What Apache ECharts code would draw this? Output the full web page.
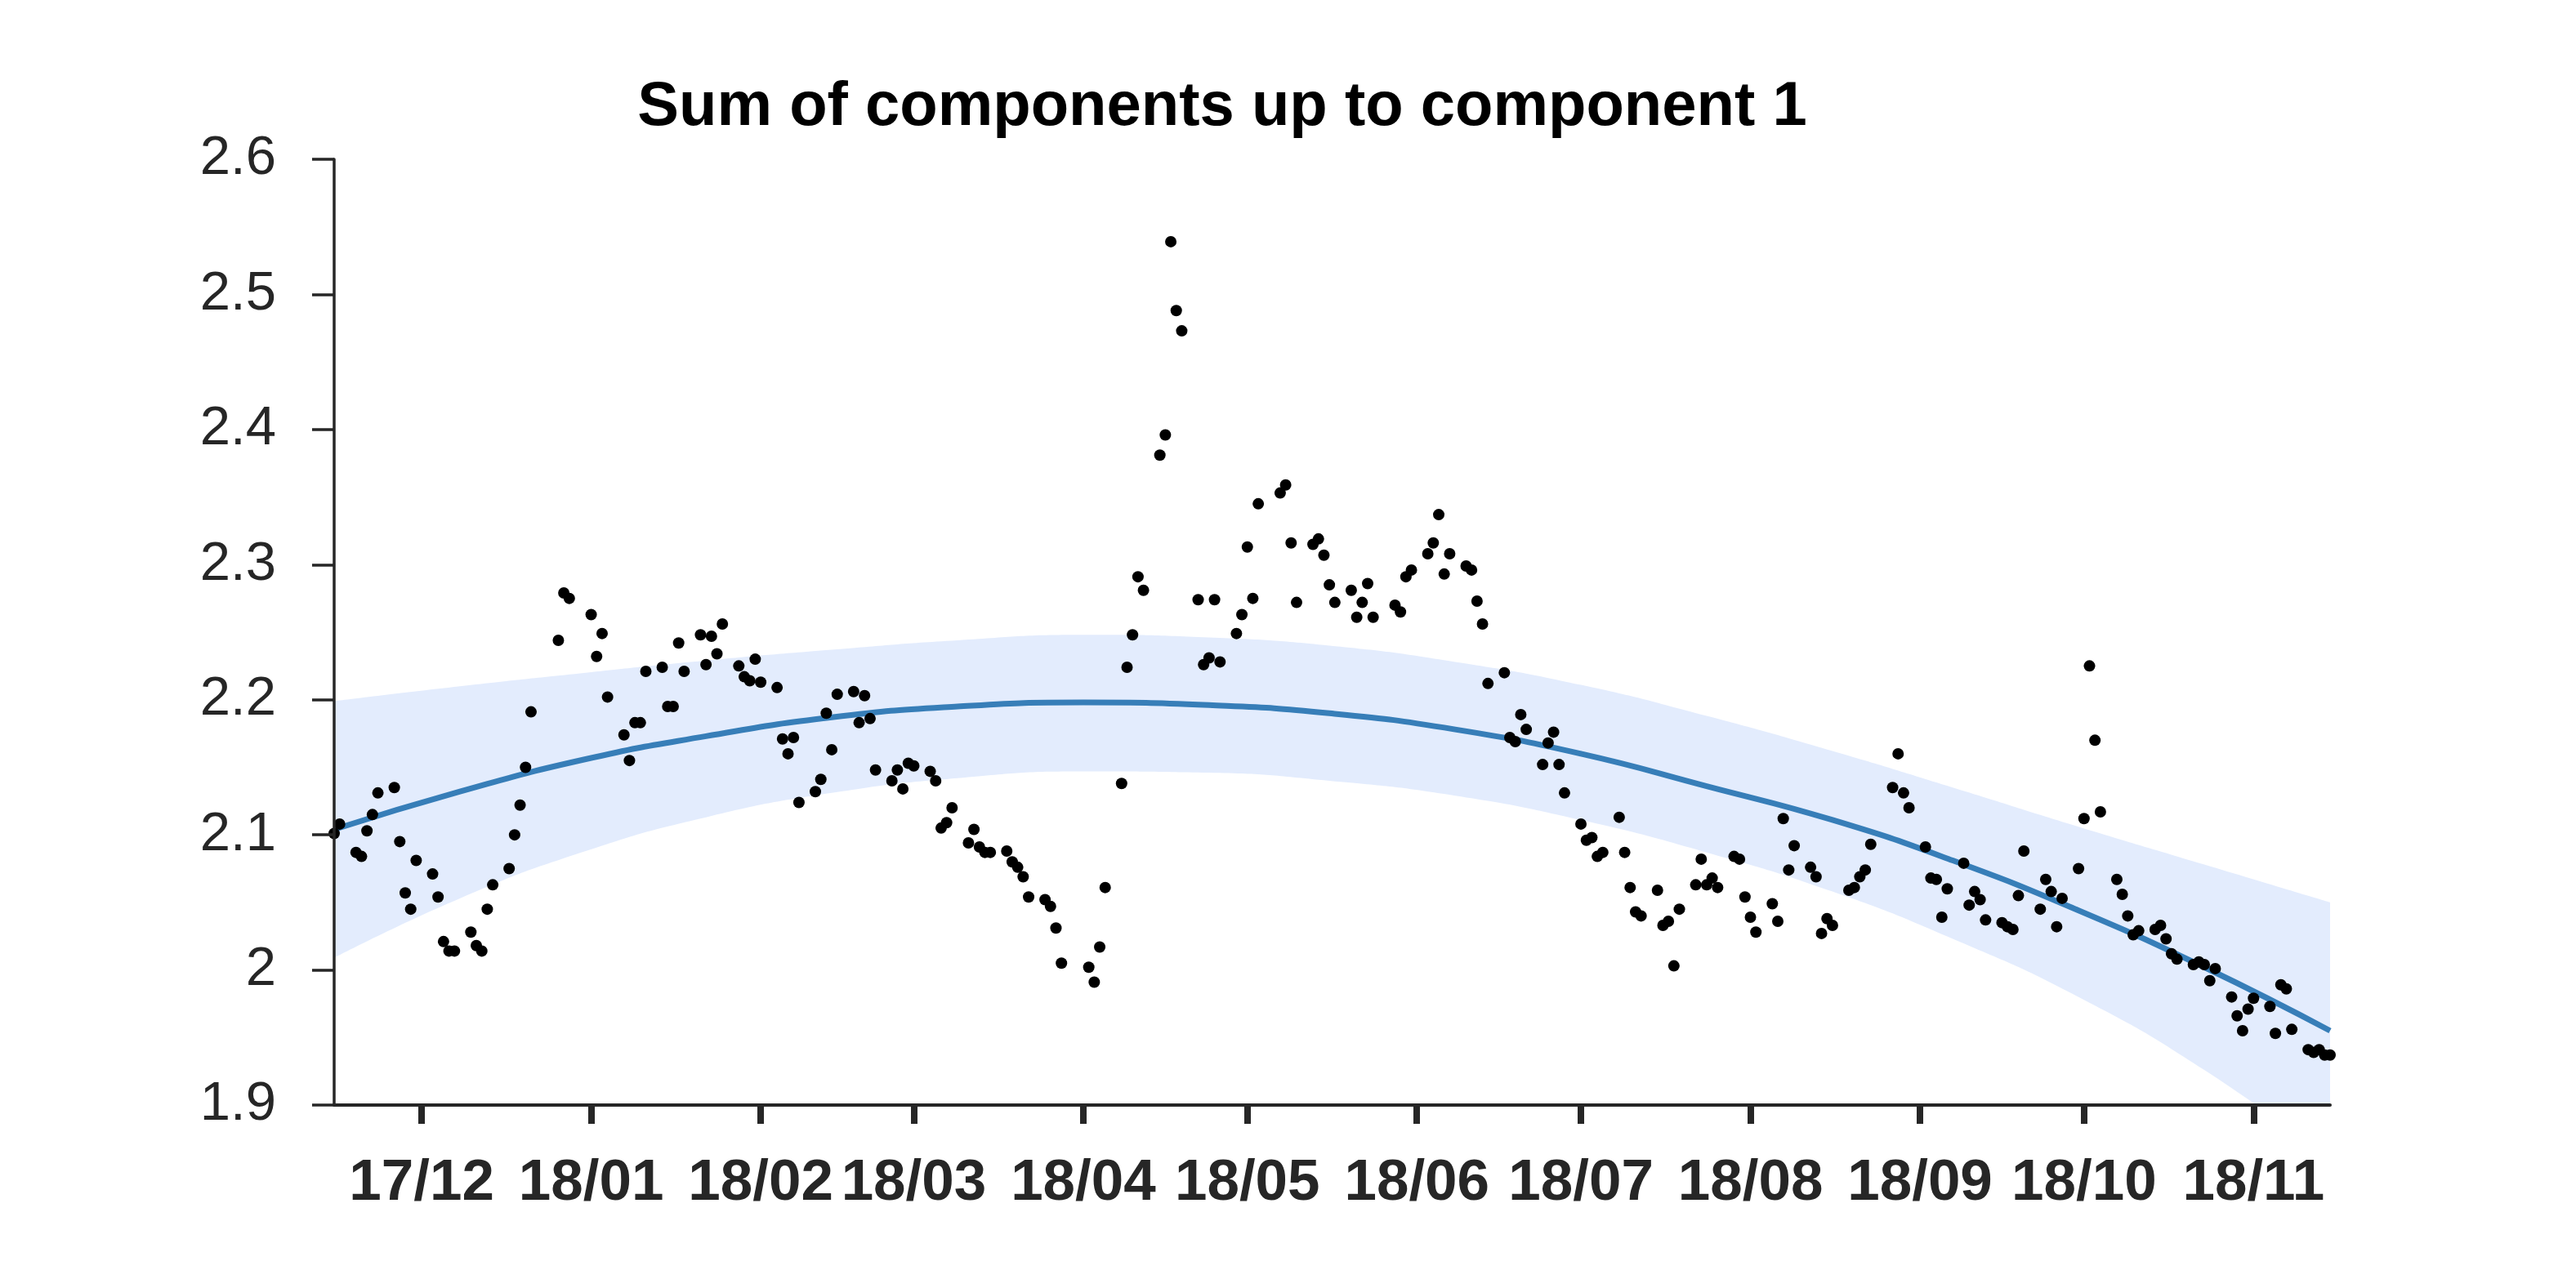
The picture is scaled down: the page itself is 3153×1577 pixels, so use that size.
<!DOCTYPE html>
<html>
<head>
<meta charset="utf-8">
<script src="https://cdn.jsdelivr.net/npm/echarts@6/dist/echarts.min.js"></script>
<style>
html,body{margin:0;padding:0;background:#ffffff;}
#chart{width:3153px;height:1577px;}
</style>
</head>
<body>
<div id="chart"></div>
<script>
// ---------------- data ----------------
const titleText = 'Sum of components up to component 1';
const baseDate = '2017-12-01';   // day 0 of the x scale

// x-axis extent (days from 2017-12-01)
const xStartDay = -16;
const xEndDay = 349;

// observed points: day offset from 2017-12-01 and value
const obsDays = [
  -16,-15,-12,-11,-10,-9,-8,-5,-4,-3,-2,-1,2,3,4,5,6,9,10,11,12,13,16,17,18,19,20,
  25,26,27,31,32,33,34,37,38,39,40,41,44,45,46,47,48,51,52,53,54,55,58,59,60,61,62,
  65,66,67,68,69,72,73,74,75,76,79,80,81,82,83,86,87,88,89,90,93,94,95,96,97,
  100,101,102,103,104,107,108,109,110,111,114,115,116,117,122,123,124,125,128,129,130,131,132,
  135,136,137,138,139,142,143,144,145,146,149,150,151,152,153,157,158,159,160,163,164,165,166,
  167,170,171,172,173,174,178,179,180,181,184,185,186,187,188,191,192,193,194,195,
  198,199,200,201,202,205,206,207,208,209,212,213,214,215,216,219,220,221,222,223,
  226,227,228,229,230,233,234,235,236,237,240,241,242,243,244,247,248,249,250,251,
  254,255,256,257,258,261,262,263,264,265,269,270,271,272,275,276,277,278,279,
  282,283,284,285,286,289,290,291,292,293,296,297,298,299,300,303,304,305,306,307,
  310,311,312,313,314,317,318,319,320,321,324,325,326,327,328,331,332,333,334,335,
  338,339,340,341,342,345,346,347,348,349
];
const obsValues = [
  2.101,2.108,2.087,2.084,2.103,2.115,2.131,2.135,2.095,2.057,2.045,2.081,2.071,2.054,2.021,2.014,2.014,2.028,2.018,2.014,2.045,2.063,2.075,2.100,2.122,2.150,2.191,
  2.244,2.279,2.275,2.263,2.232,2.249,2.202,2.174,2.155,2.183,2.183,2.221,2.224,2.195,2.195,2.242,2.221,2.248,2.226,2.247,2.234,2.256,2.225,2.217,2.214,2.230,2.213,
  2.209,2.171,2.160,2.172,2.124,2.132,2.141,2.190,2.163,2.204,2.206,2.183,2.203,2.186,2.148,2.140,2.148,2.134,2.153,2.151,2.147,2.140,2.105,2.109,2.120,
  2.094,2.104,2.091,2.087,2.087,2.088,2.080,2.076,2.069,2.054,2.052,2.047,2.031,2.005,2.002,1.991,2.017,2.061,2.138,2.224,2.248,2.291,2.281,
  2.381,2.396,2.539,2.488,2.473,2.274,2.226,2.231,2.274,2.228,2.249,2.263,2.313,2.275,2.345,2.353,2.359,2.316,2.272,2.315,2.319,2.307,2.285,
  2.272,2.281,2.261,2.272,2.286,2.261,2.270,2.265,2.291,2.296,2.308,2.316,2.337,2.293,2.308,2.299,2.296,2.273,2.256,2.212,
  2.220,2.172,2.169,2.189,2.178,2.152,2.168,2.176,2.152,2.131,2.108,2.096,2.098,2.084,2.087,2.113,2.087,2.061,2.043,2.040,
  2.059,2.033,2.036,2.003,2.045,2.063,2.082,2.063,2.068,2.061,2.084,2.082,2.054,2.039,2.028,2.049,2.036,2.112,2.074,2.092,
  2.076,2.069,2.027,2.038,2.033,2.059,2.061,2.069,2.074,2.093,2.135,2.160,2.131,2.120,2.091,2.068,2.067,2.039,2.060,
  2.079,2.048,2.058,2.052,2.037,2.035,2.032,2.030,2.055,2.088,2.045,2.067,2.058,2.032,2.053,2.075,2.112,2.225,2.170,2.117,
  2.067,2.056,2.040,2.026,2.029,2.030,2.033,2.023,2.012,2.008,2.004,2.006,2.004,1.992,2.001,1.980,1.966,1.955,1.971,1.979,
  1.973,1.953,1.989,1.986,1.956,1.941,1.939,1.941,1.937,1.937
];

// fitted trend and its band, read at sample days
const fitDays   = [-16,    7,     30,    52,    75,    98,    121,   144,   166,   189,   212,   235,   258,   280,   303,   326,   349];
const fitCenter = [2.104, 2.132, 2.156, 2.173, 2.187, 2.195, 2.198, 2.196, 2.190, 2.178, 2.160, 2.136, 2.111, 2.081, 2.044, 2.002, 1.955];
const fitUpper  = [2.199, 2.210, 2.220, 2.229, 2.237, 2.244, 2.248, 2.246, 2.240, 2.228, 2.211, 2.188, 2.162, 2.135, 2.106, 2.078, 2.050];
const fitLower  = [2.009, 2.053, 2.088, 2.113, 2.131, 2.142, 2.147, 2.146, 2.140, 2.129, 2.111, 2.087, 2.058, 2.023, 1.980, 1.926, 1.860];

// x tick positions (month starts) and their labels
const monthTickDates  = ['2017-12-01','2018-01-01','2018-02-01','2018-03-01','2018-04-01','2018-05-01',
                         '2018-06-01','2018-07-01','2018-08-01','2018-09-01','2018-10-01','2018-11-01'];
const monthTickLabels = ['17/12','18/01','18/02','18/03','18/04','18/05','18/06','18/07','18/08','18/09','18/10','18/11'];

// y axis
const yMin = 1.9, yMax = 2.6, yStep = 0.1;

// ---------------- build ----------------
const parseDate = s => { const p = s.split('-').map(Number); return Date.UTC(p[0], p[1] - 1, p[2]); };
const base = parseDate(baseDate);
const tickDays = monthTickDates.map(s => Math.round((parseDate(s) - base) / 86400000));

const scatterData = obsDays.map((d, i) => [d, obsValues[i]]);
const centerData = fitDays.map((d, i) => [d, fitCenter[i]]);
const upperData = fitDays.map((d, i) => [d, fitUpper[i]]);
const lowerData = fitDays.map((d, i) => [d, fitLower[i]]);

const axisColor = '#262626';
const bandColor = '#e3ecfd';
const fontFam = 'Liberation Sans, Arial, Helvetica, sans-serif';
const chart = echarts.init(document.getElementById('chart'), null, {renderer: 'canvas'});
chart.setOption({
  backgroundColor: '#ffffff',
  animation: false,
  title: {
    text: titleText,
    left: 1496,
    top: 94,
    padding: 0,
    textAlign: 'center',
    textStyle: {fontFamily: fontFam, fontWeight: 'bold', fontSize: 76, color: '#000000'}
  },
  grid: {left: 409, right: 301, top: 195, bottom: 224, containLabel: false, outerBoundsMode: 'none'},
  xAxis: {
    type: 'value',
    min: xStartDay,
    max: xEndDay,
    z: 5,
    axisLine: {show: true, onZero: false, lineStyle: {color: axisColor, width: 4}},
    axisTick: {show: true, inside: false, length: 23, customValues: tickDays,
               lineStyle: {color: axisColor, width: 8}},
    axisLabel: {
      show: true,
      customValues: tickDays,
      margin: 61,
      fontFamily: fontFam,
      fontWeight: 'bold',
      fontSize: 71,
      color: axisColor,
      hideOverlap: false,
      formatter: function (v) {
        const i = tickDays.indexOf(Math.round(+v));
        return i >= 0 ? monthTickLabels[i] : '';
      }
    },
    splitLine: {show: false},
    minorTick: {show: false}
  },
  yAxis: {
    type: 'value',
    min: yMin,
    max: yMax,
    interval: yStep,
    z: 5,
    axisLine: {show: true, onZero: false, lineStyle: {color: axisColor, width: 3.5}},
    axisTick: {show: true, inside: false, length: 27, lineStyle: {color: axisColor, width: 3.5}},
    axisLabel: {
      margin: 71,
      fontFamily: fontFam,
      fontSize: 67,
      color: axisColor,
      formatter: v => String(parseFloat((+v).toFixed(1)))
    },
    splitLine: {show: false}
  },
  series: [
    {
      name: 'band upper', type: 'line', data: upperData, smooth: 0.5,
      symbol: 'none', lineStyle: {width: 0, opacity: 0},
      areaStyle: {color: bandColor, opacity: 1, origin: 'start'}, z: 1, silent: true
    },
    {
      name: 'band lower', type: 'line', data: lowerData, smooth: 0.5,
      symbol: 'none', lineStyle: {width: 0, opacity: 0},
      areaStyle: {color: '#ffffff', opacity: 1, origin: 'start'}, z: 1, silent: true
    },
    {
      name: 'trend', type: 'line', data: centerData, smooth: 0.5, symbol: 'none',
      lineStyle: {color: '#377eb8', width: 7}, z: 2
    },
    {
      name: 'observed', type: 'scatter', data: scatterData, symbol: 'circle', symbolSize: 14,
      itemStyle: {color: '#000000', opacity: 1}, z: 3
    }
  ]
});
</script>
</body>
</html>
